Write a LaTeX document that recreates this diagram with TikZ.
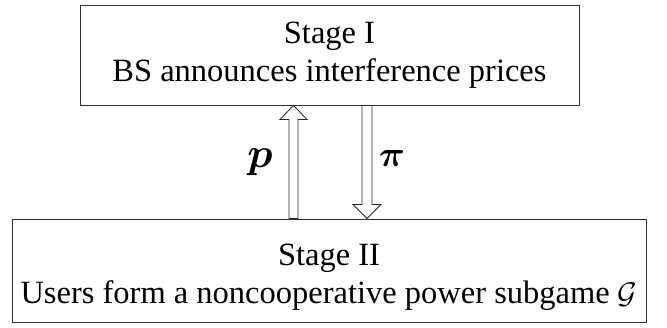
\documentclass[tikz,border=0pt]{standalone}
\usepackage{amsmath,bm,graphicx}
\usepackage{fontspec}
\setmainfont{Liberation Serif}
\usetikzlibrary{calc}

\tikzset{
  stagebox/.style={draw=black!80, line width=0.9pt, align=center, inner sep=0pt,
    font=\fontsize{32.5}{38}\selectfont},
  blockarrow/.style={draw=black!85, line width=0.8pt, fill=white, line join=miter},
  arrowlabel/.style={inner sep=0pt}
}
\newcommand{\biglabel}[2]{\scalebox{#1}{$\bm{#2}$}}

\begin{document}
\begin{tikzpicture}[x=1pt,y=-1pt]

  \useasboundingbox (0,0) rectangle (667,327);

  % Stages
  \node[stagebox, minimum width=499pt, minimum height=100pt] (stageone) at (329.5,55)
    {Stage I\\BS announces interference prices};
  \node[stagebox, minimum width=634pt, minimum height=103.5pt] (stagetwo) at (329,270.75)
    {\rule{0pt}{35pt}Stage II\\Users form a noncooperative power subgame \scalebox{1.2}{$\mathcal{G}$}};

  % Arrow positions
  \coordinate (upx) at (293.5,0);
  \coordinate (downx) at (367,0);
  \coordinate (ptip) at (stageone.south -| upx);
  \coordinate (pfoot) at (stagetwo.north -| upx);
  \coordinate (pitop) at (stageone.south -| downx);
  \coordinate (pitip) at (stagetwo.north -| downx);

  % Powers up
  \draw[blockarrow]
    ($(pfoot)+(-4.5,0)$) -- ($(ptip)+(-4.5,14)$) -- ($(ptip)+(-13.5,14)$)
    -- (ptip) -- ($(ptip)+(13.5,14)$) -- ($(ptip)+(4.5,14)$)
    -- ($(pfoot)+(4.5,0)$) -- cycle;

  % Prices down
  \draw[blockarrow]
    ($(pitop)+(-5,0)$) -- ($(pitip)+(-5,-14)$) -- ($(pitip)+(-14,-14)$)
    -- (pitip) -- ($(pitip)+(14,-14)$) -- ($(pitip)+(5,-14)$)
    -- ($(pitop)+(5,0)$) -- cycle;

  % Labels
  \node[arrowlabel] (plabel) at (260,162) {\biglabel{4.2}{p}};
  \node[arrowlabel] (pilabel) at (392,158) {\biglabel{3.6}{\pi}};

\end{tikzpicture}
\end{document}
